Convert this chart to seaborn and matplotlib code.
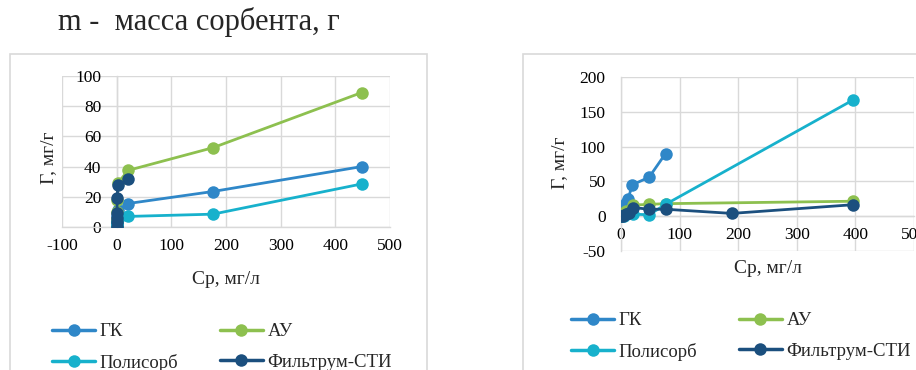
import matplotlib
matplotlib.use("Agg")
import matplotlib.pyplot as plt
import seaborn as sns
import pandas as pd
from matplotlib.lines import Line2D
from matplotlib.patches import Rectangle

# ---------------- data ----------------
series_names = ["ГК", "АУ", "Полисорб", "Фильтрум-СТИ"]
series_colors = ["#2F87C8", "#8DC04F", "#17B1CC", "#1B4F7E"]

# left chart
left_gk_x = [0, 0.2, 0.5, 1, 2, 20, 176, 448]
left_gk_y = [0, 2, 4, 7, 11, 15.5, 23.5, 40]
left_au_x = [0, 0.3, 0.6, 1, 2, 21, 176, 448]
left_au_y = [0, 5, 10, 18, 29, 37.5, 52.5, 89]
left_pol_x = [0, 0.3, 0.6, 1, 2, 21, 176, 448]
left_pol_y = [0, 1, 2, 3, 5, 7, 8.5, 28.5]
left_fil_x = [0, 0.1, 0.3, 0.5, 1, 2, 21]
left_fil_y = [0, 3, 6, 9, 19.5, 27.5, 31.5]

# right chart
right_gk_x = [0, 1, 3, 5, 8, 12, 19, 48, 76]
right_gk_y = [0, 4, 9, 14, 19, 24, 45, 56, 90]
right_au_x = [0, 3, 8, 20, 48, 76, 396]
right_au_y = [0, 4, 8, 16, 17, 18, 21.5]
right_pol_x = [0, 5, 20, 48, 76, 396]
right_pol_y = [0, 1, 3, 2, 17, 167]
right_fil_x = [0, 3, 8, 13, 20, 48, 76, 189, 396]
right_fil_y = [0, 1, 3, 5, 12.5, 10, 10, 4, 16.5]

left_xticks = [-100, 0, 100, 200, 300, 400, 500]
left_yticks = [0, 20, 40, 60, 80, 100]
right_xticks = [0, 100, 200, 300, 400, 500]
right_yticks = [-50, 0, 50, 100, 150, 200]

title_text = "m -  масса сорбента, г"
x_label = "Ср, мг/л"
y_label = "Г, мг/г"

# ---------------- style ----------------
sns.set_style("white")
plt.rcParams["font.family"] = ["Liberation Serif", "DejaVu Serif"]
plt.rcParams["axes.unicode_minus"] = False

W, H = 916, 370
fig = plt.figure(figsize=(W / 100, H / 100), dpi=100)

grid_c = "#D9D9D9"

def px_axes(l, r, t, b):
    return fig.add_axes([l / W, 1 - b / H, (r - l) / W, (b - t) / H])

def draw(ax, data):
    for (xs, ys), name, col in zip(data, series_names, series_colors):
        df = pd.DataFrame({"x": xs, "y": ys})
        sns.lineplot(data=df, x="x", y="y", ax=ax, sort=False, color=col,
                     linewidth=2.0, marker="o", markersize=9,
                     markeredgewidth=0, label=name, zorder=3)
    ax.grid(True, color=grid_c, linewidth=1)
    for s in ["top", "right"]:
        ax.spines[s].set_visible(False)
    for s in ["left", "bottom"]:
        ax.spines[s].set_color(grid_c)
        ax.spines[s].set_linewidth(1)
    ax.tick_params(length=0, labelsize=12.5, colors="#000000")
    ax.set_xlabel("")
    ax.set_ylabel("")

# frames of chart areas
fig.patches.append(Rectangle((10 / W, -0.1), 417 / W, 1.1 - 54 / H,
                             transform=fig.transFigure, fill=False,
                             edgecolor=grid_c, linewidth=1.2))
fig.patches.append(Rectangle((523 / W, -0.1), 0.9, 1.1 - 54 / H,
                             transform=fig.transFigure, fill=False,
                             edgecolor=grid_c, linewidth=1.2))

# ---- left ----
ax1 = px_axes(62, 390, 76, 227)
draw(ax1, [(left_gk_x, left_gk_y), (left_au_x, left_au_y),
           (left_pol_x, left_pol_y), (left_fil_x, left_fil_y)])
ax1.set_xlim(-100, 500)
ax1.set_ylim(0, 100)
ax1.set_xticks(left_xticks)
ax1.set_yticks(left_yticks)
ax1.spines["left"].set_position(("data", 0))
ax1.tick_params(axis="x", pad=8)
ax1.tick_params(axis="y", pad=11)
ax1.set_xlabel(x_label, fontsize=14)
ax1.xaxis.set_label_coords(0.5, -0.29)
ax1.set_ylabel(y_label, fontsize=14)
ax1.yaxis.set_label_coords(-0.015, 0.46)
ax1.legend_.remove()

# ---- right ----
ax2 = px_axes(621, 914, 77, 251)
draw(ax2, [(right_gk_x, right_gk_y), (right_au_x, right_au_y),
           (right_pol_x, right_pol_y), (right_fil_x, right_fil_y)])
ax2.set_xlim(0, 500)
ax2.set_ylim(-50, 200)
ax2.set_xticks(right_xticks)
ax2.set_yticks(right_yticks)
ax2.spines["bottom"].set_position(("data", 0))
ax2.tick_params(axis="x", pad=8)
ax2.tick_params(axis="y", pad=11)
ax2.set_xlabel(x_label, fontsize=14)
ax2.xaxis.set_label_coords(0.5, -0.05)
ax2.set_ylabel(y_label, fontsize=14)
ax2.yaxis.set_label_coords(-0.18, 0.51)
ax2.legend_.remove()

# ---- legends (row-major order: ГК, АУ / Полисорб, Фильтрум-СТИ) ----
handles = [Line2D([0], [0], color=c, linewidth=2.5, marker="o", markersize=9,
                  markeredgewidth=0) for c in series_colors]
order = [0, 2, 1, 3]

def add_legend(x0, y0):
    fig.legend([handles[i] for i in order], [series_names[i] for i in order],
               loc="upper left",
               bbox_to_anchor=(x0 / W, 1 - y0 / H), ncol=2, frameon=False,
               fontsize=13.5, handlelength=2.3, handletextpad=0.25,
               columnspacing=2.2, labelspacing=0.72, borderaxespad=0,
               borderpad=0)

add_legend(52, 323)
add_legend(571, 312)

fig.text(58 / W, 1 - 22 / H, title_text, fontsize=22, va="center", ha="left")

fig.savefig("out.png", dpi=100)
